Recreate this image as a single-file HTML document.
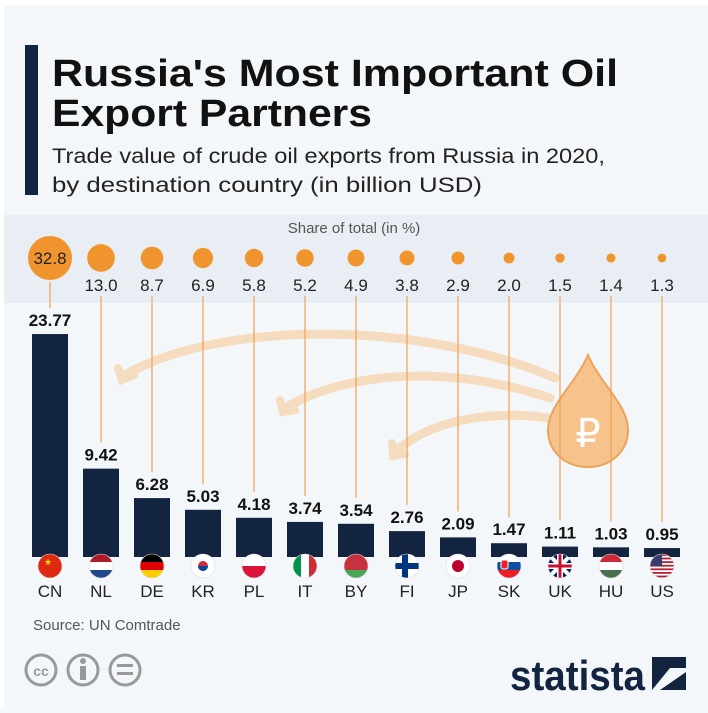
<!DOCTYPE html>
<html><head><meta charset="utf-8"><style>
body{margin:0;width:708px;height:708px;background:#f4f7fa;font-family:"Liberation Sans",sans-serif;overflow:hidden}
</style></head><body>
<svg width="708" height="708" xmlns="http://www.w3.org/2000/svg" font-family="Liberation Sans, sans-serif">
<rect width="708" height="708" fill="#f4f7fa"/>
<rect x="0" y="0" width="4" height="708" fill="#fff"/>
<rect x="0" y="0" width="708" height="6" fill="#fff"/>
<rect x="25" y="45" width="13" height="150" fill="#12243f"/>
<text x="52" y="86" font-size="38" font-weight="bold" fill="#111" textLength="566" lengthAdjust="spacingAndGlyphs">Russia's Most Important Oil</text>
<text x="52" y="126" font-size="38" font-weight="bold" fill="#111" textLength="320" lengthAdjust="spacingAndGlyphs">Export Partners</text>
<text x="52" y="163" font-size="21" fill="#222" textLength="553" lengthAdjust="spacingAndGlyphs">Trade value of crude oil exports from Russia in 2020,</text>
<text x="52" y="192" font-size="21" fill="#222" textLength="430" lengthAdjust="spacingAndGlyphs">by destination country (in billion USD)</text>
<rect x="4" y="215" width="704" height="88" fill="#e9eef4"/>
<text x="354" y="233" font-size="15" fill="#555" text-anchor="middle">Share of total (in %)</text>
<g fill="none" stroke="#f6dcbf" stroke-width="9" stroke-linecap="round">
<path d="M555 378 C420 320 220 320 125 375"/>
<path d="M118 368 L122 380 L134 375" stroke-width="8"/>
<path d="M550 398 C450 365 350 370 285 408"/>
<path d="M280 400 L283 412 L295 410" stroke-width="8"/>
<path d="M548 418 C490 410 430 420 395 452"/>
<path d="M392 443 L393 456 L405 454" stroke-width="8"/>
</g>
<path d="M588 355 C575 385 548 405 548 430 C548 452 566 467 588 467 C610 467 628 452 628 430 C628 405 601 385 588 355Z" fill="#f6c38d" stroke="#eda35a" stroke-width="2"/>
<text x="588" y="447" font-size="40" fill="#fff" text-anchor="middle">₽</text>
<g id="bars"></g>
<text x="33" y="630" font-size="15" fill="#555">Source: UN Comtrade</text>
<g fill="none" stroke="#999" stroke-width="3">
<circle cx="41" cy="670" r="15"/><circle cx="83" cy="670" r="15"/><circle cx="125" cy="670" r="15"/></g>
<text x="41" y="676" font-size="14" font-weight="bold" fill="#999" text-anchor="middle">cc</text>
<rect x="80" y="666" width="6" height="14" fill="#999"/><circle cx="83" cy="661" r="3" fill="#999"/>
<rect x="117" y="664" width="16" height="3" fill="#999"/><rect x="117" y="672" width="16" height="3" fill="#999"/>
<text x="510" y="690" font-size="42" font-weight="bold" fill="#12243f" textLength="135" lengthAdjust="spacingAndGlyphs">statista</text>
<path d="M652 657 L686 657 L686 668 L670 668 L652 690 Z M686 672 L686 690 L660 690 Z" fill="#12243f"/>
</svg>
<script>
const d=[["CN",23.77,32.8],["NL",9.42,13.0],["DE",6.28,8.7],["KR",5.03,6.9],["PL",4.18,5.8],["IT",3.74,5.2],["BY",3.54,4.9],["FI",2.76,3.8],["JP",2.09,2.9],["SK",1.47,2.0],["UK",1.11,1.5],["HU",1.03,1.4],["US",0.95,1.3]];
const fl={CN:[["#de2910",1]],NL:[["#ae1c28",1],["#fff",1],["#21468b",1]],DE:[["#000",1],["#dd0000",1],["#ffce00",1]],KR:[["#fff",1]],PL:[["#fff",1],["#dc143c",1]],IT:null,BY:[["#c8313e",2],["#4aa657",1]],FI:[["#fff",1]],JP:[["#fff",1]],SK:[["#fff",1],["#0b4ea2",1],["#ee1c25",1]],UK:[["#012169",1]],HU:[["#ce2939",1],["#fff",1],["#477050",1]],US:[["#fff",1]]};
let s='';
d.forEach((r,i)=>{const x=50+51*i,h=r[1]*9.38,top=557-h,rad=22*Math.sqrt(r[2]/32.8);
s+=`<line x1="${x}" y1="${i==0?282:296}" x2="${x}" y2="${top-26}" stroke="#f0a050" stroke-width="1.2"/>`;
s+=`<circle cx="${x}" cy="258" r="${rad}" fill="#f0952e"/>`;
if(i==0)s+=`<text x="${x}" y="264" font-size="17" text-anchor="middle" fill="#222">32.8</text>`;
else s+=`<text x="${x}" y="291" font-size="17" text-anchor="middle" fill="#222">${r[2].toFixed(1)}</text>`;
s+=`<rect x="${x-18}" y="${top}" width="36" height="${h}" fill="#12243f"/>`;
s+=`<text x="${x}" y="${top-8}" font-size="17" font-weight="bold" text-anchor="middle" fill="#111">${r[1].toFixed(2)}</text>`;
s+=`<clipPath id="f${i}"><circle cx="${x}" cy="566" r="12"/></clipPath><g clip-path="url(#f${i})">`;
const f=fl[r[0]];
if(r[0]=="IT")s+=`<rect x="${x-12}" y="554" width="8" height="24" fill="#009246"/><rect x="${x-4}" y="554" width="8" height="24" fill="#fff"/><rect x="${x+4}" y="554" width="8" height="24" fill="#ce2b37"/>`;
else{let tot=f.reduce((a,b)=>a+b[1],0),y=554;f.forEach(c=>{const hh=24*c[1]/tot;s+=`<rect x="${x-12}" y="${y}" width="24" height="${hh}" fill="${c[0]}"/>`;y+=hh;});}
if(r[0]=="FI")s+=`<rect x="${x-12}" y="563" width="24" height="6" fill="#003580"/><rect x="${x-5}" y="554" width="6" height="24" fill="#003580"/>`;
if(r[0]=="JP")s+=`<circle cx="${x}" cy="566" r="6" fill="#bc002d"/>`;
if(r[0]=="KR")s+=`<circle cx="${x}" cy="566" r="5" fill="#cd2e3a"/><path d="M${x-5} 566 a5 5 0 0 0 10 0z" fill="#0047a0"/>`;
if(r[0]=="CN")s+=`<text x="${x-6}" y="565" font-size="9" fill="#ffde00">★</text>`;
if(r[0]=="UK")s+=`<path d="M${x-12} 554 L${x+12} 578 M${x+12} 554 L${x-12} 578" stroke="#fff" stroke-width="4"/><path d="M${x} 554 V578 M${x-12} 566 H${x+12}" stroke="#fff" stroke-width="6"/><path d="M${x} 554 V578 M${x-12} 566 H${x+12}" stroke="#c8102e" stroke-width="3"/>`;
if(r[0]=="US"){for(let k=0;k<7;k++)s+=`<rect x="${x-12}" y="${554+k*3.6}" width="24" height="1.8" fill="#b22234"/>`;s+=`<rect x="${x-12}" y="554" width="12" height="12" fill="#3c3b6e"/>`;}
if(r[0]=="SK")s+=`<rect x="${x-8}" y="560" width="7" height="9" rx="2" fill="#ee1c25" stroke="#fff"/>`;
s+=`</g><circle cx="${x}" cy="566" r="12" fill="none" stroke="#ddd" stroke-width="0.6"/>`;
s+=`<text x="${x}" y="597" font-size="17" text-anchor="middle" fill="#222">${r[0]}</text>`;
});
document.getElementById('bars').outerHTML='<g>'+s+'</g>';
</script>
</body></html>
